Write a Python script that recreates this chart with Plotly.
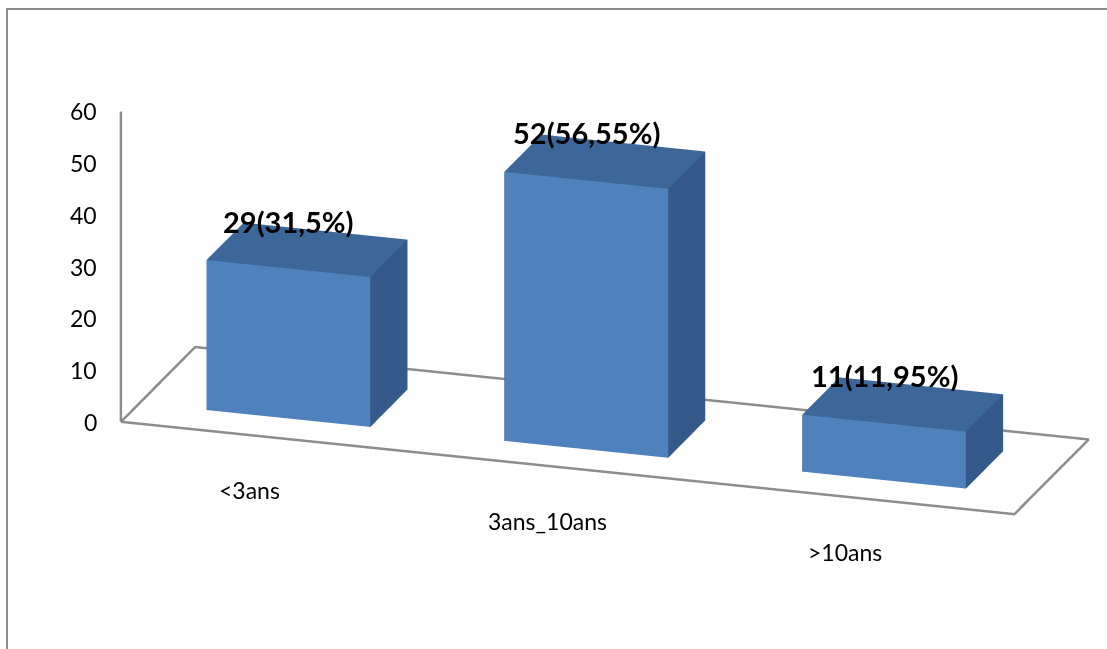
import math
import plotly.graph_objects as go

categories = ["<3ans", "3ans_10ans", ">10ans"]
counts = [29, 52, 11]
percent_labels = ["29(31,5%)", "52(56,55%)", "11(11,95%)"]
z_ticks = [0, 10, 20, 30, 40, 50, 60]

FRONT = "#4F81BD"
TOP = "#3D6699"
SIDE = "#34598A"
AXIS = "#8C8C8C"
FONT = "Lato"

half_w = 0.275  # half bar width (category units)
half_d = 0.25   # half bar depth
x_min, x_max = -0.5, len(categories) - 0.5
y_min, y_max = -0.5, 0.5
z_max = 60
pad_xy, pad_z = 0.02, 0.5

fig = go.Figure()

for i, v in enumerate(counts):
    x0, x1 = i - half_w, i + half_w
    y0, y1 = -half_d, half_d
    xs = [x0, x1, x1, x0, x0, x1, x1, x0]
    ys = [y0, y0, y1, y1, y0, y0, y1, y1]
    zs = [0, 0, 0, 0, v, v, v, v]
    faces = [
        (0, 1, 5, FRONT), (0, 5, 4, FRONT),
        (1, 2, 6, SIDE), (1, 6, 5, SIDE),
        (4, 5, 6, TOP), (4, 6, 7, TOP),
        (3, 2, 6, SIDE), (3, 6, 7, SIDE),
        (0, 3, 7, SIDE), (0, 7, 4, SIDE),
        (0, 1, 2, SIDE), (0, 2, 3, SIDE),
    ]
    fig.add_trace(go.Mesh3d(
        x=xs, y=ys, z=zs,
        i=[f[0] for f in faces], j=[f[1] for f in faces], k=[f[2] for f in faces],
        facecolor=[f[3] for f in faces],
        flatshading=True,
        lighting=dict(ambient=1, diffuse=0, specular=0, roughness=1, fresnel=0),
        hoverinfo="skip", showscale=False,
    ))

fig.add_trace(go.Scatter3d(
    x=[x_min, x_max, x_max, x_min, x_min],
    y=[y_min, y_min, y_max, y_max, y_min],
    z=[0, 0, 0, 0, 0],
    mode="lines", line=dict(color=AXIS, width=5), hoverinfo="skip", showlegend=False,
))
fig.add_trace(go.Scatter3d(
    x=[x_min] * len(z_ticks), y=[y_min] * len(z_ticks), z=z_ticks,
    mode="lines", line=dict(color=AXIS, width=5), hoverinfo="skip", showlegend=False,
))

annotations = []
for t in z_ticks:
    annotations.append(dict(
        x=x_min, y=y_min, z=t, text=str(t), showarrow=False,
        xanchor="right", yanchor="middle", xshift=-22,
        font=dict(family=FONT, size=23, color="#000000"),
    ))
for i, c in enumerate(categories):
    annotations.append(dict(
        x=i, y=y_min, z=0, text=c, showarrow=False,
        xanchor="center", yanchor="middle", xshift=-20, yshift=-53,
        font=dict(family=FONT, size=23, color="#000000"),
    ))
for i, (v, lab) in enumerate(zip(counts, percent_labels)):
    annotations.append(dict(
        x=i, y=-half_d, z=v, text="<b>" + lab + "</b>", showarrow=False,
        xanchor="center", yanchor="bottom", yshift=28,
        font=dict(family=FONT, size=29, color="#000000"),
    ))

hidden = dict(visible=False, showgrid=False, zeroline=False, showbackground=False,
              showspikes=False)

az = math.radians(13.7)
el = math.radians(15)
r = 2.3
eye = dict(x=r * math.sin(az) * math.cos(el), y=-r * math.cos(az) * math.cos(el),
           z=r * math.sin(el))

fig.update_layout(
    width=1107, height=649,
    margin=dict(l=0, r=0, t=0, b=0),
    paper_bgcolor="white",
    showlegend=False,
    scene=dict(
        domain=dict(x=[0, 1], y=[0, 1]),
        xaxis=dict(range=[x_min - pad_xy, x_max + pad_xy], **hidden),
        yaxis=dict(range=[y_min - pad_xy, y_max + pad_xy], **hidden),
        zaxis=dict(range=[-pad_z, z_max + pad_z], **hidden),
        aspectmode="manual",
        aspectratio=dict(x=2.93, y=0.78, z=1.027),
        camera=dict(
            eye=eye,
            center=dict(x=-0.15, y=-0.05, z=-0.159),
            up=dict(x=0, y=0, z=1),
            projection=dict(type="orthographic"),
        ),
        annotations=annotations,
        dragmode=False,
    ),
    shapes=[dict(
        type="rect", xref="paper", yref="paper",
        x0=7 / 1107, x1=1.01, y0=-0.01, y1=1 - 9 / 649,
        line=dict(color="#8C8C8C", width=2), fillcolor="rgba(0,0,0,0)",
    )],
)

fig.write_html("out.html")
